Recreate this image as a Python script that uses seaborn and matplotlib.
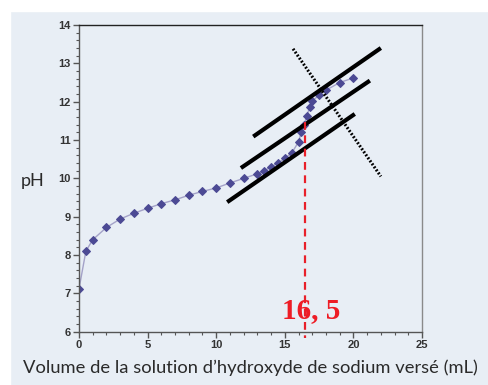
import matplotlib
matplotlib.use("Agg")
import matplotlib.pyplot as plt
from matplotlib.patches import Rectangle
from matplotlib.ticker import MultipleLocator
import seaborn as sns
import pandas as pd

# titration curve
volume = [0, 0.5, 1, 2, 3, 4, 5, 6, 7, 8, 9, 10, 11, 12, 13, 13.5, 14, 14.5,
          15, 15.5, 16, 16.2, 16.4, 16.6, 16.8, 17, 17.5, 18, 19, 20]
ph = [7.12, 8.1, 8.4, 8.72, 8.94, 9.09, 9.22, 9.34, 9.44, 9.56, 9.66, 9.75, 9.88,
      10.0, 10.12, 10.2, 10.3, 10.4, 10.52, 10.66, 10.95, 11.2, 11.4, 11.62,
      11.85, 12.02, 12.17, 12.3, 12.5, 12.62]

# hand drawn construction lines (tangent method)
tangent_upper = ([12.7, 22.0], [11.09, 13.4])
tangent_middle = ([11.8, 21.2], [10.27, 12.55])
tangent_lower = ([10.8, 20.1], [9.38, 11.68])
perpendicular = ([15.6, 22.0], [13.38, 10.05])
v_eq = 16.5
eq_label = "16, 5"

df = pd.DataFrame({"volume": volume, "pH": ph})

sns.set_style("ticks")
bg = "#e8eef5"
fig = plt.figure(figsize=(4.89, 3.85), dpi=100, facecolor=bg)
ax = fig.add_axes([0.1616, 0.1384, 0.7014, 0.7966])
ax.set_facecolor(bg)

# white margin of the scan
fig.patches.append(Rectangle((0, 0.972), 1, 0.03, transform=fig.transFigure,
                             color="white", zorder=-1))
fig.patches.append(Rectangle((0, 0), 0.02, 1, transform=fig.transFigure,
                             color="white", zorder=-1))

sns.lineplot(data=df, x="volume", y="pH", ax=ax, color="#a4a2c8", lw=1,
             marker="D", markersize=3.6, markerfacecolor="#4c4a94",
             markeredgecolor="#4c4a94", sort=False)

for xs, ys in [tangent_upper, tangent_middle, tangent_lower]:
    ax.plot(xs, ys, color="black", lw=3, solid_capstyle="butt", clip_on=False)
ax.plot(*perpendicular, color="black", lw=2.2, ls=(0, (0.6, 0.6)), clip_on=False)

ax.plot([v_eq, v_eq], [11.48, 5.83], color="#e8202a", lw=1.6,
        ls=(0, (3.5, 2.5)), clip_on=False, zorder=5)
ax.text(16.9, 6.36, eq_label, color="#ee1c25", fontsize=21, fontweight="bold",
        family="Liberation Serif", ha="center", va="baseline", zorder=6)

ax.set_xlim(0, 25)
ax.set_ylim(6, 14)
ax.xaxis.set_major_locator(MultipleLocator(5))
ax.xaxis.set_minor_locator(MultipleLocator(1))
ax.yaxis.set_major_locator(MultipleLocator(1))
ax.yaxis.set_minor_locator(MultipleLocator(0.2))
ax.tick_params(which="major", length=4, width=1, color="#555555",
               labelsize=8, labelcolor="#333333", pad=2)
ax.tick_params(which="minor", length=2.5, width=0.8, color="#555555")
for lab in ax.get_xticklabels() + ax.get_yticklabels():
    lab.set_fontweight("bold")
    lab.set_family("Liberation Sans")

for side in ["left", "bottom"]:
    ax.spines[side].set_color("#555555")
ax.spines["top"].set_color("#222222")
ax.spines["right"].set_color("#8a8a8a")
for sp in ax.spines.values():
    sp.set_linewidth(1)

ax.set_xlabel("Volume de la solution d\u2019hydroxyde de sodium vers\u00e9 (mL)",
              family="Lato", fontsize=13.2, color="#2a2a2a", labelpad=7)
ax.set_ylabel("pH", rotation=0, family="Lato", fontsize=13, color="#2a2a2a")
ax.yaxis.set_label_coords(-0.134, 0.49)
ax.yaxis.label.set_va("center")

fig.savefig("out.png", dpi=100, facecolor=bg)
